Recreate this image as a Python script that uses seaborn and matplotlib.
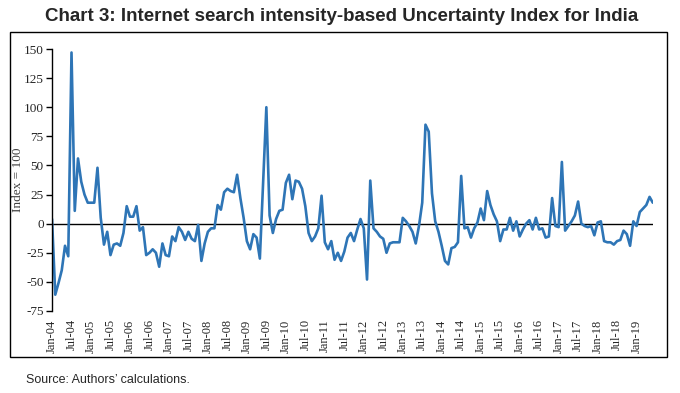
import numpy as np
import pandas as pd
import seaborn as sns
import matplotlib
matplotlib.use("Agg")
from matplotlib import pyplot as plt
from matplotlib.patches import Rectangle

# monthly index values, Jan-2004 .. Jun-2019
y2004 = [4, -61, -51, -40, -19, -28, 147, 11, 56, 36, 25, 18]
y2005 = [18, 18, 48, 5, -18, -7, -27, -18, -17, -19, -8, 15]
y2006 = [6, 6, 15, -6, -3, -27, -25, -22, -25, -37, -17, -27]
y2007 = [-28, -11, -15, -3, -7, -14, -7, -13, -15, -1, -32, -17]
y2008 = [-7, -4, -4, 16, 12, 27, 30, 28, 27, 42, 22, 5]
y2009 = [-15, -22, -9, -12, -30, 35, 100, 7, -8, 4, 11, 12]
y2010 = [35, 42, 21, 37, 36, 30, 15, -8, -15, -11, -4, 24]
y2011 = [-16, -22, -15, -31, -25, -32, -24, -12, -8, -15, -5, 4]
y2012 = [-4, -48, 37, -4, -7, -11, -13, -25, -17, -16, -16, -16]
y2013 = [5, 2, -2, -7, -17, -2, 18, 85, 79, 26, 2, -7]
y2014 = [-19, -32, -35, -21, -20, -16, 41, -4, -3, -12, -4, 1]
y2015 = [13, 3, 28, 16, 8, 2, -15, -5, -5, 5, -6, 2]
y2016 = [-11, -5, 0, 3, -5, 5, -5, -4, -12, -11, 22, -2]
y2017 = [-3, 53, -6, -2, 2, 7, 19, 0, -2, -3, -2, -10]
y2018 = [1, 2, -15, -16, -16, -18, -15, -14, -6, -9, -19, 2]
y2019 = [-2, 10, 13, 16, 23, 18]

values = (y2004 + y2005 + y2006 + y2007 + y2008 + y2009 + y2010 + y2011 +
          y2012 + y2013 + y2014 + y2015 + y2016 + y2017 + y2018 + y2019)
months = pd.date_range("2004-01-01", periods=len(values), freq="MS")
month_labels = [d.strftime("%b-%y") for d in months]
yticks = [-75, -50, -25, 0, 25, 50, 75, 100, 125, 150]

df = pd.DataFrame({"pos": np.arange(len(values)), "index": values})

sns.set_style("white")
plt.rcParams["font.family"] = ["Liberation Serif", "DejaVu Serif"]

fig = plt.figure(figsize=(6.8, 3.93), dpi=100)
ax = fig.add_axes([0.0765, 0.2087, 0.8835, 0.6666])

sns.lineplot(data=df, x="pos", y="index", color="#2E75B6", linewidth=1.9, ax=ax)
ax.axhline(0, color="black", linewidth=1.0, zorder=1)

ax.set_xlim(0, len(values) - 1)
ax.set_ylim(-75, 150)
ax.set_yticks(yticks)
ax.set_yticklabels([str(t) for t in yticks], fontsize=9.5)
tick_pos = list(range(0, len(values), 6))
ax.set_xticks(tick_pos)
ax.set_xticklabels([month_labels[i] for i in tick_pos], rotation=90, fontsize=9)
ax.tick_params(axis="x", length=0, pad=6)
ax.tick_params(axis="y", direction="out", length=4, width=1, color="black", pad=2, left=True)
ax.set_xlabel("")
ax.set_ylabel("Index = 100", fontsize=9.5, color="#404040")
ax.yaxis.set_label_coords(-0.046, 0.5)

for s in ["top", "right", "bottom"]:
    ax.spines[s].set_visible(False)
ax.spines["left"].set_color("black")
ax.spines["left"].set_linewidth(1.0)

fig.patches.append(Rectangle((0.0147, 0.0916), 0.966, 0.827, transform=fig.transFigure,
                             fill=False, edgecolor="black", linewidth=1.0))

fig.text(0.503, 0.957, "Chart 3: Internet search intensity-based Uncertainty Index for India",
         ha="center", va="center", fontsize=13.5, fontweight="bold",
         family=["Liberation Sans", "DejaVu Sans"])
fig.text(0.038, 0.033, "Source: Authors\u2019 calculations.", ha="left", va="center",
         fontsize=9, family=["Liberation Sans", "DejaVu Sans"])

fig.savefig("out.png", dpi=100)
